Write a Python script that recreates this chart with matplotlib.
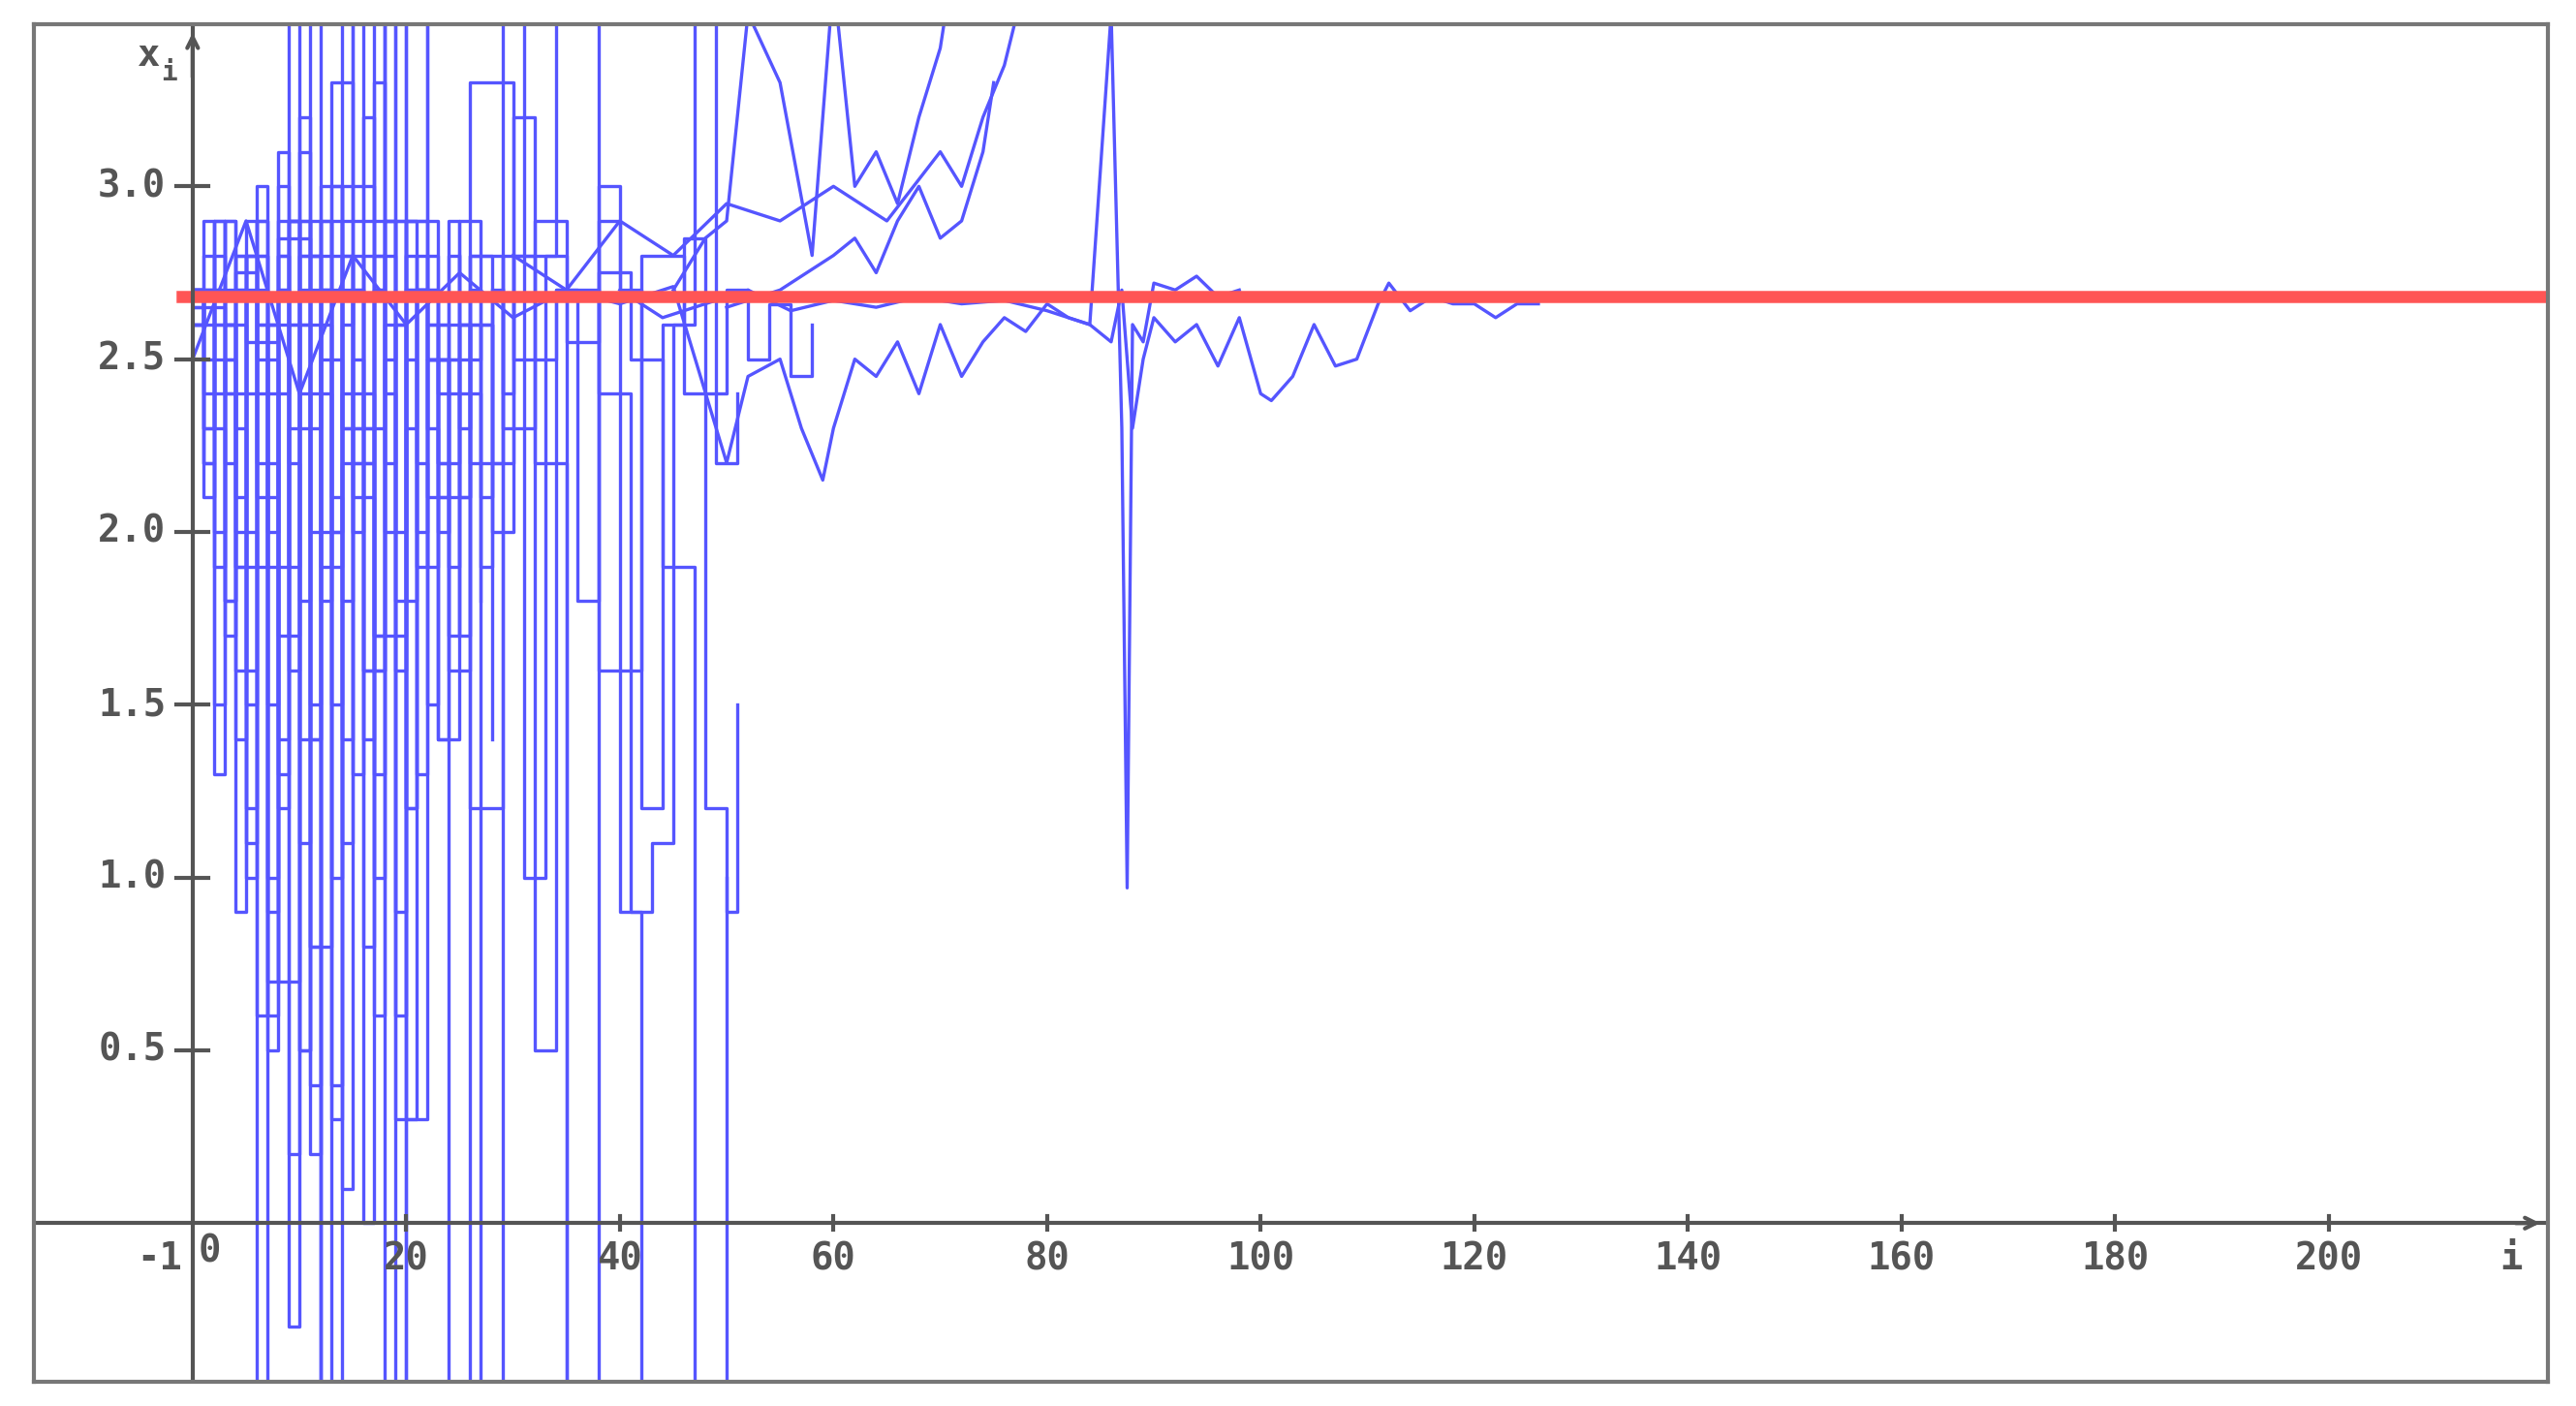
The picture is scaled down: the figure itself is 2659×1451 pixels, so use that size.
import matplotlib
matplotlib.use("Agg")
import matplotlib.pyplot as plt

BLUE = "#5555ff"
RED = "#ff5555"
GRAY = "#555555"
LIMIT = 2.68

# Long convergent series (i, x_i)
long_x = [0,5,10,15,20,25,30,35,40,45,50,52,55,57,59,60,62,64,66,68,70,72,74,76,78,80,82,84,86,87,88,89,90,92,94,96,98,100,101,103,105,107,109,111,112,114,116,118,120,122,124,126]
long_y = [2.5,2.9,2.4,2.8,2.6,2.75,2.62,2.7,2.66,2.71,2.2,2.45,2.5,2.3,2.15,2.3,2.5,2.45,2.55,2.4,2.6,2.45,2.55,2.62,2.58,2.66,2.62,2.6,2.55,2.7,2.3,2.5,2.62,2.55,2.6,2.48,2.62,2.4,2.38,2.45,2.6,2.48,2.5,2.66,2.72,2.64,2.68,2.66,2.66,2.62,2.66,2.66]

spike_x = [40,44,48,52,56,60,64,68,72,76,80,84,86,87,87.5,88,89,90,92,94,96,98]
spike_y = [2.7,2.62,2.66,2.7,2.64,2.67,2.65,2.68,2.66,2.67,2.64,2.6,3.5,2.3,0.97,2.6,2.55,2.72,2.7,2.74,2.68,2.7]

up1_x = [30,35,40,45,50,55,60,65,70,72,74,76,78]
up1_y = [2.8,2.7,2.9,2.8,2.95,2.9,3.0,2.9,3.1,3.0,3.2,3.35,3.6]
up2_x = [45,48,50,52,55,58,60,62,64,66,68,70,71]
up2_y = [2.7,2.85,2.9,3.5,3.3,2.8,3.6,3.0,3.1,2.95,3.2,3.4,3.6]
up3_x = [50,55,60,62,64,66,68,70,72,74,75]
up3_y = [2.65,2.7,2.8,2.85,2.75,2.9,3.0,2.85,2.9,3.1,3.3]

wild_x = [
    [0,1,2,3,4,5,6,7,8,9,10,11,12,13,14,15],
    [0,2,3,4,5,6,7,8,9,10,11,12,13,14,15,16,17,18,19,20],
    [0,3,5,7,9,11,13,15,17,19,21,23,25,27,29,31,33,35],
    [0,4,6,8,10,12,14,16,18,20,22,24,26,28,30,32,34,36,38,40,42],
    [0,5,8,11,14,17,20,23,26,29,32,35,38,41,44,47,50],
    [0,6,10,14,18,22,26,30,34,38,42,46,48,50,51],
    [10,14,18,22,26,30,34,38,41,43,45,47,49,51],
    [0,1,2,3,4,5,6,7,8,9,10,11,12],
    [2,4,6,8,10,12,14,16,18,20,22,24,26,28],
    [20,23,26,29,32,35,38,40,42,44,46,48,50,52,54,56,58],
]
wild_y = [
    [2.7,2.3,2.9,1.8,2.6,1.2,3.0,0.6,2.8,-0.3,3.2,1.5,2.7,0.4,3.5,2.0],
    [2.7,2.5,2.2,2.8,1.6,2.9,1.0,3.1,0.2,2.6,3.5,-0.5,2.9,1.8,3.5,0.0,2.7,3.5,-0.5,2.8],
    [2.65,2.4,2.8,1.9,2.9,0.8,3.3,2.2,3.5,0.3,2.7,1.4,2.9,-0.5,3.5,1.0,2.8,-0.5],
    [2.6,2.75,2.1,2.9,1.4,3.0,2.3,2.8,-0.5,3.5,2.5,1.6,2.8,2.0,3.2,0.5,2.7,1.8,2.9,0.9,-0.5],
    [2.7,2.55,2.85,2.0,3.0,1.7,2.9,2.4,1.2,2.8,2.2,-0.5,2.75,2.5,1.9,-0.5,1.0],
    [2.68,2.6,2.8,2.3,2.9,2.1,3.3,2.5,2.7,1.6,2.8,2.4,1.2,0.9,1.5],
    [2.7,2.9,3.5,2.6,2.2,2.8,3.5,2.4,0.9,1.1,2.6,3.5,2.2,2.4],
    [2.7,2.2,1.5,2.5,0.9,2.0,-0.5,2.6,1.3,3.5,0.5,2.4,-0.5],
    [2.6,1.9,2.4,0.7,2.8,-0.5,2.2,1.6,3.5,0.3,2.5,-0.5,2.6,1.4],
    [2.7,2.5,2.8,2.3,2.9,2.55,3.0,2.7,1.2,2.6,2.85,2.4,2.7,2.5,2.66,2.45,2.6],
]

# Dense early series, one value per step i = 0, 1, 2, ...
dense_y = [
    [2.7,2.2,2.9,1.7,2.8,1.1,2.6,0.5,3.0,1.9,2.4,0.2,2.9,2.1,1.4,2.7,0.8,3.3,2.0,2.6,1.2,2.8,2.3],
    [2.6,2.8,2.0,2.5,1.4,2.9,2.2,0.9,2.7,1.6,3.1,0.4,2.5,2.0,2.8,1.3,2.4,0.6,2.9,1.8,2.7,2.2,1.5,2.6,2.0],
    [2.7,2.4,1.9,2.9,2.3,1.5,2.7,0.7,2.4,2.9,1.1,2.6,1.8,3.0,0.1,2.5,2.2,1.0,2.8,1.6,2.3,2.7,1.9,2.5,2.2,2.8],
    [2.65,2.1,2.7,2.4,1.6,2.8,1.9,2.6,1.2,2.9,2.3,0.8,2.7,1.5,2.4,2.0,3.2,1.3,2.6,0.6,2.8,1.9,2.5,2.2,1.7,2.6,2.3],
    [2.7,2.5,1.3,2.6,2.0,2.8,0.6,2.5,1.7,2.3,2.9,1.4,2.6,0.3,2.8,2.1,1.6,2.7,2.4,0.9,2.9,2.0,2.6,1.4,2.5,2.1,2.7,1.8],
    [2.6,2.9,2.3,1.8,2.7,1.0,2.9,2.2,1.4,2.6,0.5,2.8,1.9,2.5,1.1,2.7,2.3,1.7,2.9,2.0,2.5,1.3,2.8,2.2,1.9,2.6,2.4,2.1,2.7],
    [2.7,2.3,2.8,2.6,1.9,2.4,2.8,1.5,2.7,2.2,1.8,2.9,2.4,1.0,2.6,2.8,2.1,1.6,2.5,2.9,1.2,2.7,2.3,2.0,2.8,1.7,2.5,2.6,2.2,2.7],
    [2.6,2.7,2.4,2.9,2.1,2.7,2.5,2.0,2.8,1.7,2.6,2.3,2.9,1.9,2.7,2.4,1.4,2.8,2.2,2.6,1.8,2.7,2.5,2.1,2.9,2.3,2.6,1.9,2.7,2.4,2.8],
]

fig = plt.figure(figsize=(2659/200, 1451/200), dpi=200)
ax = fig.add_axes([0.013, 0.017, 0.976, 0.966])
ax.set_xlim(-14.9, 220.5)
ax.set_ylim(-0.46, 3.47)

for ys in dense_y:
    ax.plot(range(len(ys)), ys, color=BLUE, lw=1.2, drawstyle="steps-post")
for xs, ys in zip(wild_x, wild_y):
    ax.plot(xs, ys, color=BLUE, lw=1.2, drawstyle="steps-post")
for xs, ys in [(long_x, long_y), (spike_x, spike_y), (up1_x, up1_y), (up2_x, up2_y), (up3_x, up3_y)]:
    ax.plot(xs, ys, color=BLUE, lw=1.2)

ax.axhline(LIMIT, xmin=(-1 + 14.9) / 235.4, xmax=0.998, color=RED, lw=4.5)

for s in ax.spines.values():
    s.set_color("#777777"); s.set_linewidth(1.5)
ax.set_xticks([]); ax.set_yticks([])

font = dict(family="DejaVu Sans Mono", fontweight="bold", color=GRAY, fontsize=14)
ax.axhline(0, color=GRAY, lw=1.5)
ax.axvline(0, color=GRAY, lw=1.5)
ax.annotate("", xy=(220.3, 0), xytext=(217, 0), arrowprops=dict(arrowstyle="->", color=GRAY, lw=1.5))
ax.annotate("", xy=(0, 3.46), xytext=(0, 3.3), arrowprops=dict(arrowstyle="->", color=GRAY, lw=1.5))
for v in [0.5, 1.0, 1.5, 2.0, 2.5, 3.0]:
    ax.plot([-1.5, 1.5], [v, v], color=GRAY, lw=1.5)
    ax.text(-2.5, v, f"{v:.1f}", ha="right", va="center", **font)
for v in range(20, 220, 20):
    ax.plot([v, v], [-0.02, 0.02], color=GRAY, lw=1.5)
    ax.text(v, -0.05, str(v), ha="center", va="top", **font)
ax.text(-1, -0.05, "-1", ha="right", va="top", **font)
ax.text(0.5, -0.03, "0", ha="left", va="top", **font)
ax.text(216, -0.05, "i", ha="left", va="top", **font)
ax.text(-3, 3.38, "x", ha="right", va="center", **font)
ax.text(-3, 3.33, "i", ha="left", va="center", family="DejaVu Sans Mono", fontweight="bold", color=GRAY, fontsize=10)

fig.savefig("out.png", dpi=200, facecolor="white")
